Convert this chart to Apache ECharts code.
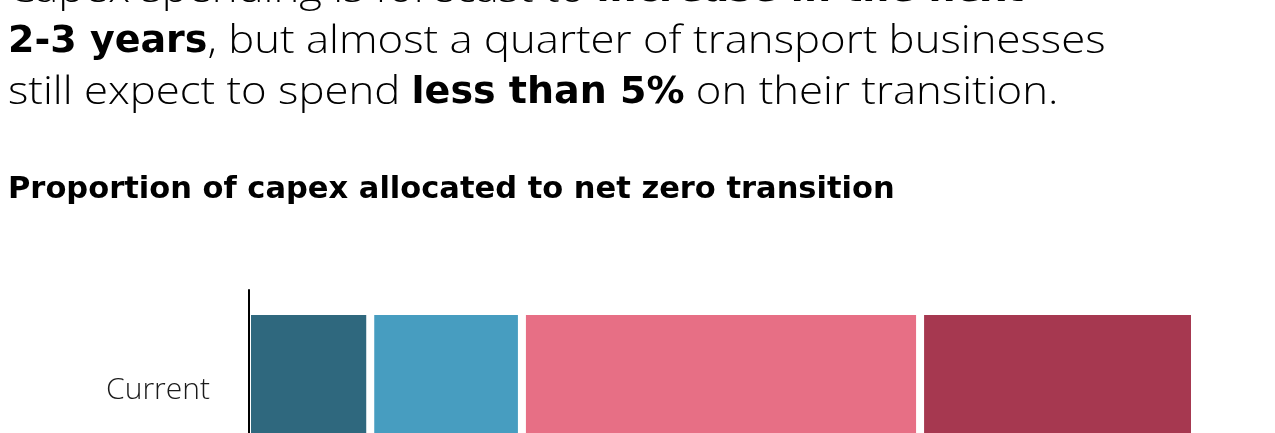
<!DOCTYPE html>
<html>
<head>
<meta charset="utf-8">
<script src="https://cdn.jsdelivr.net/npm/echarts@6/dist/echarts.min.js"></script>
<style>
  html, body { margin: 0; padding: 0; background: #fff; }
  body { width: 1275px; height: 433px; overflow: hidden; }
  #chart { width: 1275px; height: 520px; }
</style>
</head>
<body>
<div id="chart"></div>
<script>
// Capex share bands for the stacked bar
const categories = ['Current'];
const bandNames = ['Band 1', 'Band 2', 'Band 3', 'Band 4'];
const bandValues = [
  [13],
  [16],
  [42],
  [29]
];
const bandColors = ['#2f687e', '#479dc0', '#e76f85', '#a63850'];

// Headline text, line by line; 'b' runs are bold, 'n' runs are light
const headlineLines = [
  [['n', 'Capex spending is forecast to '], ['b', 'increase in the next']],
  [['b', '2-3 years'], ['n', ', but almost a quarter of transport businesses']],
  [['n', 'still expect to spend '], ['b', 'less than 5%'], ['n', ' on their transition.']]
];
const subtitle = 'Proportion of capex allocated to net zero transition';

const LIGHT = '"Open Sans", Inter, sans-serif';
const BOLD = '"DejaVu Sans", "Liberation Sans", sans-serif';

// Run styles for the headline
const runStyle = {
  n: { font: '300 38px ' + LIGHT, scaleX: 1.15 },
  b: { font: 'bold 38px ' + BOLD, scaleX: 1 }
};
const HEAD_LEFT = 8;
const HEAD_FIRST_BASELINE = 4;
const HEAD_LINE_HEIGHT = 51;

// Lay the headline runs out one after another, measuring each run
const measureCtx = document.createElement('canvas').getContext('2d');
const headlineGraphics = [];
headlineLines.forEach((line, li) => {
  let x = HEAD_LEFT;
  const baseline = HEAD_FIRST_BASELINE + li * HEAD_LINE_HEIGHT;
  line.forEach(([kind, text]) => {
    const st = runStyle[kind];
    measureCtx.font = st.font;
    const w = measureCtx.measureText(text).width * st.scaleX;
    headlineGraphics.push({
      type: 'text',
      x: x,
      y: baseline - 13,
      scaleX: st.scaleX,
      style: {
        text: text,
        font: st.font,
        fill: '#000',
        align: 'left',
        verticalAlign: 'middle'
      }
    });
    x += w;
  });
});

const chart = echarts.init(document.getElementById('chart'), null, { renderer: 'canvas' });

chart.setOption({
  backgroundColor: '#ffffff',
  animation: false,
  graphic: headlineGraphics.concat([
    {
      type: 'text',
      left: 8,
      top: 175,
      style: {
        text: subtitle,
        fontFamily: BOLD,
        fontSize: 30.5,
        fontWeight: 'bold',
        fill: '#000'
      }
    }
  ]),
  grid: { left: 247, right: 80, top: 290, height: 200, containLabel: false, outerBoundsMode: 'none' },
  xAxis: {
    type: 'value',
    min: 0,
    max: 100,
    show: false
  },
  yAxis: {
    type: 'category',
    data: categories,
    z: 10,
    offset: -2,
    axisLine: { show: true, lineStyle: { color: '#000', width: 2 } },
    axisTick: { show: false },
    splitLine: { show: false },
    axisLabel: {
      margin: 39,
      fontFamily: LIGHT,
      fontSize: 30,
      fontWeight: 300,
      color: '#1a1a1a'
    }
  },
  series: bandNames.map((name, i) => ({
    name,
    type: 'bar',
    stack: 'capex',
    data: bandValues[i],
    barWidth: 158,
    itemStyle: { color: bandColors[i], borderColor: '#ffffff', borderWidth: 4 }
  }))
});
</script>
</body>
</html>
